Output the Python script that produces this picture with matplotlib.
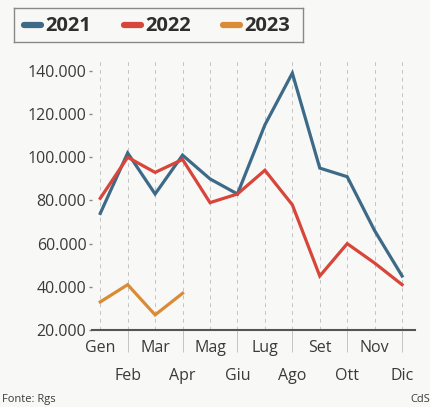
import numpy as np
import matplotlib.pyplot as plt

months = ['Gen', 'Feb', 'Mar', 'Apr', 'Mag', 'Giu', 'Lug', 'Ago', 'Set', 'Ott', 'Nov', 'Dic']
val_2021 = [74000, 102000, 83000, 101000, 90000, 83000, 115000, 139000, 95000, 91000, 66000, 45000]
val_2022 = [81000, 100000, 93000, 99000, 79000, 83000, 94000, 78000, 45000, 60000, 51000, 41000]
val_2023 = [33000, 41000, 27000, 37000]
yticks = [20000, 40000, 60000, 80000, 100000, 120000, 140000]

c21, c22, c23 = '#3d6a87', '#d8453a', '#d98b35'
txt = '#3a3a3a'
plt.rcParams['font.family'] = ['Open Sans', 'DejaVu Sans']

fig = plt.figure(figsize=(4.31, 4.07), dpi=100, facecolor='#f8f8f6')
ax = fig.add_axes([92/431, 77/407, 323/431, 272/407])
ax.set_facecolor('#f8f8f6')

x = np.arange(len(months))
ax.plot(x, val_2021, color=c21, lw=2.3, solid_joinstyle='miter')
ax.plot(x, val_2022, color=c22, lw=2.3, solid_joinstyle='miter')
ax.plot(x[:len(val_2023)], val_2023, color=c23, lw=2.3, solid_joinstyle='miter')

ax.set_xlim(-0.3, 11.47)
ax.set_ylim(20000, 146000)
for xi in x:
    ax.axvline(xi, color='#c4c4c4', lw=0.7, ls=(0, (4, 4)), zorder=0)

for s in ['left', 'right', 'top']:
    ax.spines[s].set_visible(False)
ax.spines['bottom'].set_color('#555555')
ax.spines['bottom'].set_linewidth(1.5)

ax.set_yticks(yticks, [f'{v:,}'.replace(',', '.') for v in yticks])
ax.tick_params(axis='y', length=2, width=1, color='#888888', pad=2, labelsize=11.5, labelcolor=txt)

# alternate month labels on two rows
ax.set_xticks(x[::2], months[::2])
ax.set_xticks(x[1::2], months[1::2], minor=True)
ax.tick_params(axis='x', which='major', length=0, pad=7, labelsize=11.5, labelcolor=txt)
ax.tick_params(axis='x', which='minor', length=16, width=0.7, color='#c4c4c4', pad=11, labelsize=11.5, labelcolor=txt)

# legend box
lx = fig.add_axes([14/431, 1 - 42/407, 289/431, 34/407])
lx.set_xlim(0, 289)
lx.set_ylim(0, 34)
lx.set_xticks([])
lx.set_yticks([])
lx.set_facecolor('none')
for s in lx.spines.values():
    s.set_color('#888888')
    s.set_linewidth(1)
for x0, col, lab in [(10, c21, '2021'), (110, c22, '2022'), (209, c23, '2023')]:
    lx.plot([x0, x0 + 17], [17, 17], color=col, lw=4.5, solid_capstyle='round')
    lx.text(x0 + 21, 16, lab, fontsize=14.5, fontweight='bold', color='#2e2e2e', va='center', ha='left')

fig.text(2/431, 2/407, 'Fonte: Rgs', fontsize=8, color=txt, ha='left', va='bottom')
fig.text(430/431, 2/407, 'CdS', fontsize=8, color=txt, ha='right', va='bottom')

fig.savefig('out.png', dpi=100, facecolor=fig.get_facecolor())
